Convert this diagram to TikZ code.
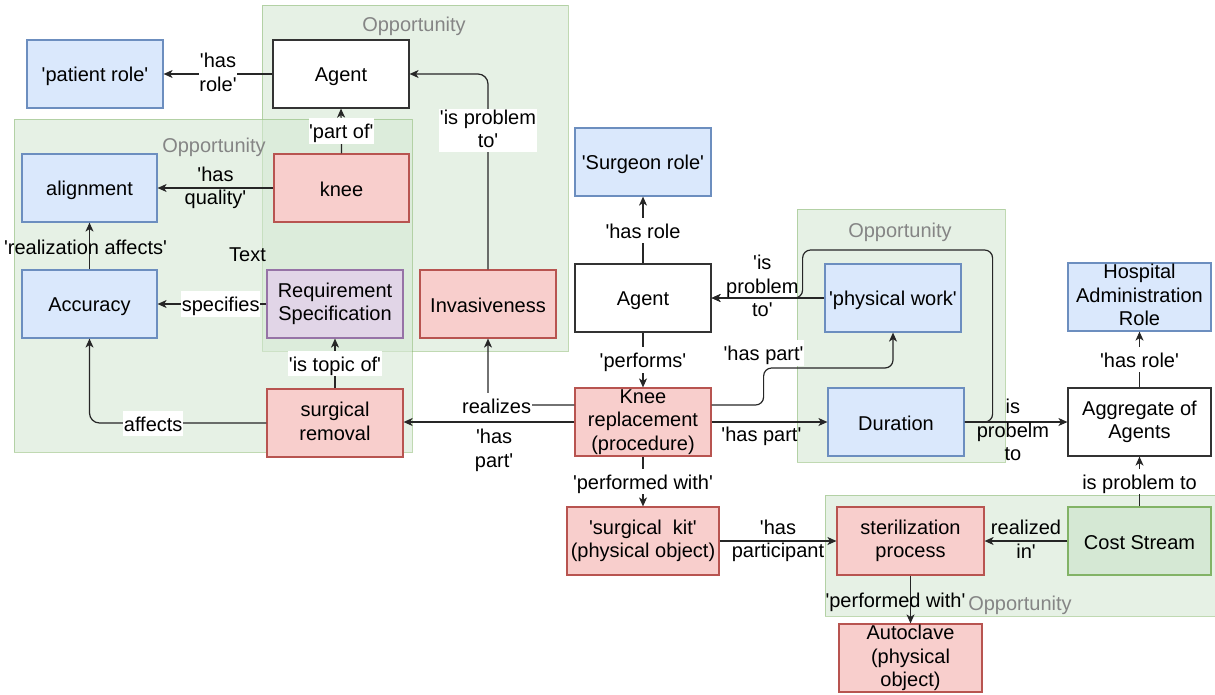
\documentclass[tikz,border=0pt]{standalone}
\usepackage{fontspec}
\setmainfont{Liberation Sans}[Ligatures=TeXOff]
\usetikzlibrary{arrows.meta}
\definecolor{bluefill}{HTML}{DAE8FC}\definecolor{bluedraw}{HTML}{6C8EBF}
\definecolor{redfill}{HTML}{F8CECC}\definecolor{reddraw}{HTML}{B85450}
\definecolor{purplefill}{HTML}{E1D5E7}\definecolor{purpledraw}{HTML}{9673A6}
\definecolor{greenfill}{HTML}{D5E8D4}\definecolor{greendraw}{HTML}{82B366}
\definecolor{darkline}{HTML}{333333}
\definecolor{grouptext}{HTML}{858585}
% fixed line box so text sits like the drawing editor centres it
\newcommand\linebox{\rule[-4pt]{0pt}{24pt}}
\begin{document}
\begin{tikzpicture}[x=1pt,y=-1pt,
  font=\fontsize{20}{23.5}\selectfont,
  every node/.append style={execute at begin node=\linebox, execute at end node=\linebox},
  box/.style={draw, line width=1.2pt, minimum width=136pt, minimum height=68pt,
    inner sep=0pt, align=center},
  bluebox/.style={box, fill=bluefill, draw=bluedraw},
  redbox/.style={box, fill=redfill, draw=reddraw},
  purplebox/.style={box, fill=purplefill, draw=purpledraw},
  greenbox/.style={box, fill=greenfill, draw=greendraw},
  plainbox/.style={box, fill=white, draw=darkline},
  group/.style={fill=greenfill, fill opacity=0.6, draw=greendraw, draw opacity=0.5,
    line width=1pt},
  grouplabel/.style={text=grouptext, inner sep=0pt},
  edge/.style={draw=black!85, line width=1.2pt,
    -{Stealth[length=9pt, width=8pt, inset=2.5pt]}},
  lbl/.style={inner sep=0.5pt, align=center, text=black, sharp corners},
  wlbl/.style={lbl, fill=white},
]
\useasboundingbox (0,0) rectangle (1215,694);

% containers
\path[group] (262,5) rectangle (568,351);
\path[group] (14,119) rectangle (412,452);
\path[group] (797,209) rectangle (1005,462);
\path[group] (825,495) rectangle (1225,616);
\node[grouplabel] (oppTop) at (414,24) {Opportunity};
\node[grouplabel] (oppLeft) at (214,145) {Opportunity};
\node[grouplabel] (oppMid) at (900,230) {Opportunity};
\node[grouplabel] (oppBot) at (1020,603) {Opportunity};
\node[inner sep=0pt] (txt) at (247.5,253) {Text};

% entities
\node[bluebox] (pr) at (95,74) {'patient role'};
\node[plainbox] (agT) at (341,74) {Agent};
\node[bluebox, minimum width=135pt] (align) at (89.5,188) {alignment};
\node[redbox, minimum width=135pt] (knee) at (341.5,188) {knee};
\node[bluebox, minimum width=135pt] (acc) at (89.5,304) {Accuracy};
\node[purplebox] (req) at (335,304) {Requirement\\Specification};
\node[redbox] (surg) at (335,423) {surgical\\removal};
\node[redbox] (inv) at (488,304) {Invasiveness};
\node[bluebox] (sr) at (643,162) {'Surgeon role'};
\node[plainbox] (agM) at (643,298) {Agent};
\node[redbox] (kr) at (643,422) {Knee\\replacement\\(procedure)};
\node[redbox, minimum width=152pt] (kit) at (643,541) {'surgical\ \ kit'\\(physical object)};
\node[bluebox] (pw) at (893,298) {'physical work'};
\node[bluebox] (dur) at (896,422) {Duration};
\node[bluebox, minimum width=143pt] (har) at (1139.5,297) {Hospital\\Administration\\Role};
\node[plainbox, minimum width=143pt] (agg) at (1139.5,422) {Aggregate of\\Agents};
\node[redbox, minimum width=147pt] (ster) at (910.5,541) {sterilization\\process};
\node[greenbox, minimum width=143pt] (cost) at (1139.5,541) {Cost Stream};
\node[redbox, minimum width=143pt] (auto) at (910.5,658) {Autoclave\\(physical\\object)};

% relations
\draw[edge] (agT.west) -- node[wlbl] {'has\\role'} (pr.east);
\draw[edge] (knee.north) -- node[wlbl] {'part of'} (agT.south);
\draw[edge] (knee.west) -- node[lbl] {'has\\quality'} (align.east);
\draw[edge] (acc.north) -- node[lbl, xshift=-4pt] {'realization affects'} (align.south);
\draw[edge] (req.west) -- node[wlbl, pos=0.42] {specifies} (acc.east);
\draw[edge] (surg.north) -- node[wlbl] {'is topic of'} (req.south);
\draw[edge, rounded corners=10pt] (surg.west) -| node[wlbl, pos=0.32] {affects} (acc.south);
\draw[edge] (kr.west) -- node[lbl, pos=0.47, anchor=north, yshift=-6pt] {'has\\part'} (kr.west -| surg.east);
\draw[edge, rounded corners=8pt] ([yshift=17pt]kr.west) -| node[wlbl, pos=0.45] {realizes} (inv.south);
\draw[edge, rounded corners=10pt] (inv.north) |- node[wlbl, pos=0.355] {'is problem\\to'} (agT.east);
\draw[edge] (agM.north) -- node[wlbl] {'has role} (sr.south);
\draw[edge] (agM.south) -- node[wlbl] {'performs'} (kr.north);
\draw[edge] (kr.south) -- node[wlbl] {'performed with'} (kit.north);
\draw[edge, rounded corners=8pt] ([yshift=17pt]kr.east) -- ++(52,0) -- ++(0,-37)
  node[wlbl, pos=1, yshift=15pt] {'has part'} -| (pw.south);
\draw[edge] (kr.east) -- node[lbl, pos=0.43, anchor=north, yshift=2pt] {'has part'} (dur.west);
\draw[edge, rounded corners=8pt] (dur.east) -- ++(28,0) -- ++(0,-172) -- ++(-190,0)
  -- ++(0,48) -- (agM.east);
\draw[edge] (pw.west) -- node[lbl, pos=0.55, yshift=10pt] {'is\\problem\\to'} (agM.east);
\draw[edge] (dur.east) -- node[lbl, pos=0.47, yshift=-10pt] {is\\probelm\\to} (agg.west);
\draw[edge] (agg.north) -- node[wlbl] {'has role'} (har.south);
\draw[edge] (cost.north) -- node[wlbl] {is problem to} (agg.south);
\draw[edge] (kit.east) -- node[lbl] {'has\\participant} (ster.west);
\draw[edge] (cost.west) -- node[lbl] {realized\\in'} (ster.east);
\draw[edge] (ster.south) -- node[lbl, xshift=-15pt] {'performed with'} (auto.north);
\end{tikzpicture}
\end{document}
